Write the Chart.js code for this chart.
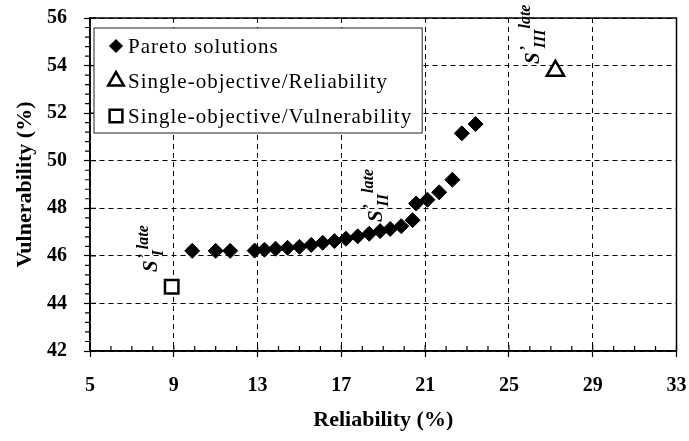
<!DOCTYPE html>
<html>
<head>
<meta charset="utf-8">
<script src="https://cdn.jsdelivr.net/npm/chart.js@4"></script>
<style>
  html, body { margin: 0; padding: 0; background: #fff; }
  canvas { display: block; }
</style>
</head>
<body>
<canvas id="paretoChart" width="689" height="441"></canvas>
<script>
// values
var paretoRel = [9.88, 11.0, 11.69, 12.86, 13.33, 13.86, 14.43, 15.0, 15.56, 16.11, 16.67, 17.22, 17.78, 18.33, 18.85, 19.33, 19.86, 20.4, 20.57, 21.11, 21.67, 22.3, 22.75, 23.41];
var paretoVul = [46.21, 46.21, 46.21, 46.22, 46.26, 46.3, 46.34, 46.38, 46.46, 46.55, 46.62, 46.72, 46.82, 46.93, 47.04, 47.13, 47.25, 47.5, 48.2, 48.36, 48.67, 49.2, 51.15, 51.54];
var singleRel = [27.22];
var singleRelVul = [53.78];
var singleVulRel = [8.9];
var singleVul = [44.7];

var xTicks = [5, 9, 13, 17, 21, 25, 29, 33];
var yTicks = [42, 44, 46, 48, 50, 52, 54, 56];

// S' labels: [reliability, vulnerability, subscript]
var sLabels = [
  [8.19, 45.32, "I"],
  [18.95, 47.42, "II"],
  [26.43, 54.07, "III"]
];

var serif = '"Liberation Serif", "Times New Roman", serif';

function toPoints(xs, ys) {
  var pts = [];
  for (var i = 0; i < xs.length; i++) pts.push({x: xs[i], y: ys[i]});
  return pts;
}

// frame, inner/minor ticks
var framePlugin = {
  id: "frame",
  afterDraw: function(chart) {
    var ctx = chart.ctx, a = chart.chartArea;
    var xs = chart.scales.x, ys = chart.scales.y;
    ctx.save();
    ctx.strokeStyle = "#000";
    ctx.lineWidth = 1.5;
    ctx.strokeRect(a.left, a.top, a.right - a.left, a.bottom - a.top);
    ctx.lineWidth = 1.2;
    ctx.beginPath();
    for (var v = xTicks[0]; v <= xTicks[xTicks.length - 1]; v += 1) {
      var px = xs.getPixelForValue(v);
      var major = (v - xTicks[0]) % 4 === 0;
      ctx.moveTo(px, a.bottom);
      ctx.lineTo(px, a.bottom - (major ? 6 : 5));
    }
    for (var k = 0; k <= 35; k++) {
      var yv = yTicks[0] + k * 0.4;
      var py = ys.getPixelForValue(yv);
      var isMajor = k % 5 === 0;
      ctx.moveTo(a.left, py);
      if (isMajor) ctx.lineTo(a.left + 6, py);
      else ctx.lineTo(a.left - 5, py);
    }
    ctx.stroke();
    ctx.restore();
  }
};

// S'^late_sub labels
var labelPlugin = {
  id: "sLabels",
  afterDatasetsDraw: function(chart) {
    var ctx = chart.ctx;
    sLabels.forEach(function(l) {
      var px = chart.scales.x.getPixelForValue(l[0]);
      var py = chart.scales.y.getPixelForValue(l[1]);
      ctx.save();
      ctx.translate(px, py);
      ctx.rotate(-Math.PI / 2);
      ctx.fillStyle = "#000";
      ctx.textBaseline = "alphabetic";
      ctx.font = "italic bold 21px " + serif;
      ctx.fillText("S", 0, 0);
      var u = ctx.measureText("S").width;
      ctx.font = "italic bold 16px " + serif;
      ctx.fillText("\u2019", u + 1, -8);
      u += 4;
      ctx.fillText(l[2], u, 6);
      u += ctx.measureText(l[2]).width + 1;
      ctx.font = "italic bold 16px " + serif;
      ctx.fillText("late", u, -9);
      ctx.restore();
    });
  }
};

// legend box inside the plot
var legendPlugin = {
  id: "boxLegend",
  afterDraw: function(chart) {
    var ctx = chart.ctx, a = chart.chartArea;
    var left = a.left + 4, top = a.top + 10;
    ctx.save();
    ctx.font = "21px " + serif;
    ctx.letterSpacing = "1px";
    var w = 0;
    chart.data.datasets.forEach(function(ds) {
      w = Math.max(w, ctx.measureText(ds.label).width);
    });
    var boxW = w + 44, boxH = 105;
    ctx.fillStyle = "#fff";
    ctx.fillRect(left, top, boxW, boxH);
    ctx.strokeStyle = "#222";
    ctx.lineWidth = 1;
    ctx.strokeRect(left, top, boxW, boxH);
    chart.data.datasets.forEach(function(ds, i) {
      var cy = top + 18 + i * 35;
      ctx.fillStyle = ds.backgroundColor;
      ctx.strokeStyle = ds.borderColor;
      ctx.lineWidth = ds.borderWidth;
      Chart.helpers.drawPoint(ctx, {
        pointStyle: ds.pointStyle,
        radius: ds.legendRadius,
        borderWidth: ds.borderWidth,
        rotation: 0
      }, left + 22, cy);
      ctx.fillStyle = "#000";
      ctx.textBaseline = "middle";
      ctx.fillText(ds.label, left + 34, cy + 1);
    });
    ctx.restore();
  }
};

new Chart(document.getElementById("paretoChart"), {
  type: "scatter",
  data: {
    datasets: [{
      label: "Pareto solutions",
      data: toPoints(paretoRel, paretoVul),
      pointStyle: "rectRot",
      pointRadius: 7.5,
      legendRadius: 6.5,
      backgroundColor: "#000",
      borderColor: "#000",
      borderWidth: 1
    }, {
      label: "Single-objective/Reliability",
      data: toPoints(singleRel, singleRelVul),
      pointStyle: "triangle",
      pointRadius: 10,
      legendRadius: 9,
      backgroundColor: "#fff",
      borderColor: "#000",
      borderWidth: 2.5
    }, {
      label: "Single-objective/Vulnerability",
      data: toPoints(singleVulRel, singleVul),
      pointStyle: "rect",
      pointRadius: 9.5,
      legendRadius: 9,
      backgroundColor: "#fff",
      borderColor: "#000",
      borderWidth: 2.5
    }]
  },
  options: {
    responsive: false,
    animation: false,
    layout: { padding: { left: 0, right: 11, top: 18, bottom: 0 } },
    plugins: {
      legend: { display: false },
      tooltip: { enabled: false }
    },
    scales: {
      x: {
        type: "linear",
        min: xTicks[0],
        max: xTicks[xTicks.length - 1],
        afterBuildTicks: function(s) { s.ticks = xTicks.map(function(v) { return {value: v}; }); },
        afterFit: function(s) { s.height = 90; s.paddingLeft = 0; s.paddingRight = 0; },
        ticks: { color: "#000", padding: 17, font: { family: serif, size: 20, weight: "bold" } },
        grid: { color: "#000", lineWidth: 1, tickLength: 6, tickColor: "#000", tickWidth: 1.2 },
        border: { display: true, color: "#000", width: 1.5, dash: [5, 4] },
        title: { display: true, text: "Reliability (%)", color: "#000", padding: { top: 10, bottom: 7 },
                 font: { family: serif, size: 22, weight: "bold" } }
      },
      y: {
        type: "linear",
        min: yTicks[0],
        max: yTicks[yTicks.length - 1],
        afterBuildTicks: function(s) { s.ticks = yTicks.map(function(v) { return {value: v}; }); },
        afterFit: function(s) { s.width = 90; s.paddingTop = 0; s.paddingBottom = 0; },
        ticks: { color: "#000", padding: 17, font: { family: serif, size: 20, weight: "bold" } },
        grid: { color: "#000", lineWidth: 1, tickLength: 6, tickColor: "#000", tickWidth: 1.2 },
        border: { display: true, color: "#000", width: 1.5, dash: [5, 4] },
        title: { display: true, text: "Vulnerability (%)", color: "#000", padding: { top: 12, bottom: 4 },
                 font: { family: serif, size: 22, weight: "bold" } }
      }
    }
  },
  plugins: [framePlugin, labelPlugin, legendPlugin]
});
</script>
</body>
</html>
